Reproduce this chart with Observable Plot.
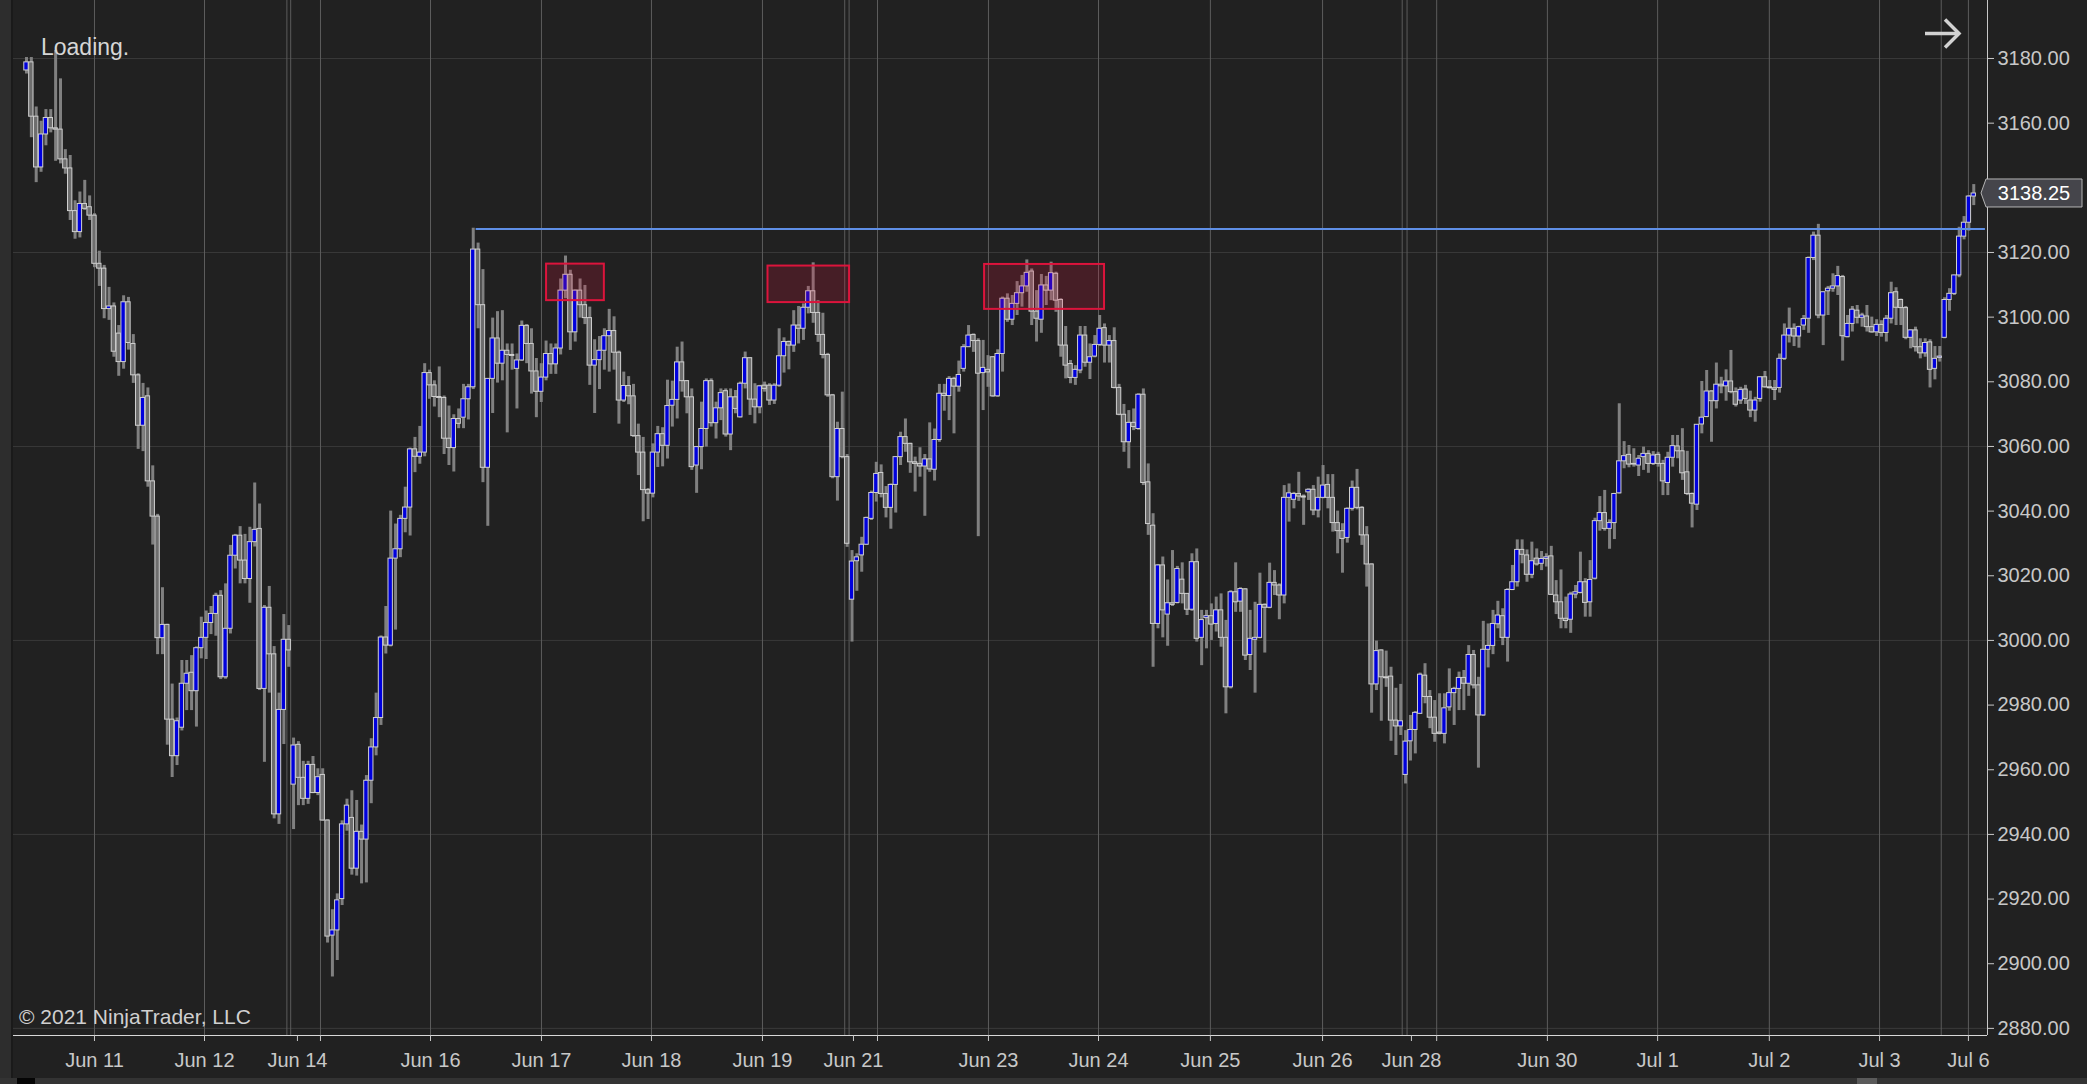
<!DOCTYPE html>
<html>
<head>
<meta charset="utf-8">
<script src="https://cdn.jsdelivr.net/npm/d3@7"></script>
<script src="https://cdn.jsdelivr.net/npm/@observablehq/plot@0.6"></script>
<style>
html,body{margin:0;padding:0;background:#212121;}
#wrap{position:relative;width:2087px;height:1084px;overflow:hidden;background:#212121;font-family:"Liberation Sans",Arial,sans-serif;}
#wrap svg{display:block;}
.ov{position:absolute;left:0;top:0;pointer-events:none;}
#loading{position:absolute;left:41px;top:34px;font-size:23px;color:#d6d6d6;}
#copy{position:absolute;left:19px;top:1005px;font-size:21px;color:#d0d0d0;}
#leftstrip{position:absolute;left:0;top:0;width:11px;height:1078px;background:#2d2d2d;border-right:2px solid #1a1a1a;}
#scroll{position:absolute;left:0;top:1078px;width:2087px;height:6px;background:#333333;}
#scrollA{position:absolute;left:17px;top:1078px;width:18px;height:6px;background:#050505;}
#scrollT{position:absolute;left:1857px;top:1078px;width:20px;height:6px;background:#5a5a5a;}
</style>
</head>
<body>
<div id="wrap">
  <div id="leftstrip"></div>
  <div id="scroll"></div><div id="scrollA"></div><div id="scrollT"></div>
  <div id="loading">Loading.</div>
  <div id="copy">© 2021 NinjaTrader, LLC</div>
</div>
<script>
// ---- bar data (hourly candles, index = bar number) ----
const open = [
3176.3,3178.8,3162.0,3146.3,3156.5,3161.6,3158.4,3158.0,3148.8,3146.0,
3132.8,3126.3,3135.0,3134.0,3131.4,3116.5,3115.0,3102.5,3103.3,3094.9,
3086.1,3104.6,3091.7,3082.0,3066.4,3075.5,3049.2,3038.3,3000.7,3004.8,
2975.5,2964.2,2973.0,2986.6,2990.0,2984.3,2997.6,3000.8,3005.4,3008.2,
3013.8,2988.6,3003.6,3026.2,3032.4,3024.7,3019.0,3030.4,3034.5,2985.0,
3010.1,2995.7,2946.2,2978.5,3000.2,2955.4,2967.7,2957.5,2951.0,2961.5,
2952.8,2958.4,2944.3,2908.7,2910.3,2920.0,2943.1,2945.1,2929.4,2940.8,
2938.4,2956.6,2966.9,2976.0,3000.9,2998.4,3025.3,3028.2,3037.6,3041.1,
3059.1,3056.8,3058.1,3082.7,3078.9,3075.3,3075.0,3062.4,3059.5,3068.5,
3068.9,3074.6,3078.3,3120.9,3103.7,3053.4,3080.9,3093.4,3085.6,3089.6,
3088.3,3084.0,3086.6,3097.3,3091.7,3083.2,3076.9,3081.3,3088.6,3085.4,
3090.3,3108.2,3113.1,3095.3,3108.2,3103.7,3099.7,3085.0,3086.7,3089.6,
3094.1,3095.7,3089.0,3074.2,3078.7,3075.5,3063.2,3058.1,3046.5,3045.4,
3058.1,3063.8,3060.2,3072.6,3074.4,3086.0,3080.2,3075.2,3054.1,3059.8,
3065.4,3080.2,3067.2,3071.8,3077.1,3063.7,3075.2,3069.0,3079.4,3087.3,
3074.5,3072.1,3078.8,3078.8,3074.2,3078.8,3087.9,3092.3,3091.2,3097.4,
3096.4,3102.9,3108.0,3101.3,3094.5,3088.3,3075.8,3050.5,3065.4,3056.7,
3012.6,3024.5,3026.3,3029.6,3037.6,3045.6,3051.8,3045.3,3041.0,3048.1,
3056.7,3062.9,3060.8,3055.1,3054.6,3053.8,3056.0,3052.8,3062.0,3076.3,
3075.6,3080.9,3078.5,3084.0,3090.7,3094.5,3092.6,3082.7,3083.7,3087.6,
3075.5,3088.6,3105.7,3099.2,3104.1,3107.4,3109.5,3114.1,3101.7,3099.2,
3109.8,3108.2,3113.4,3105.3,3091.2,3085.5,3081.2,3083.5,3094.3,3085.9,
3087.8,3091.4,3096.6,3091.2,3092.6,3078.1,3069.8,3061.3,3067.3,3065.4,
3076.0,3048.9,3035.5,3005.1,3023.2,3008.0,3011.5,3011.6,3018.8,3014.4,
3009.5,3024.2,3000.8,3006.9,3007.5,3005.1,3009.3,3000.8,2985.5,3014.9,
3012.0,3015.8,2995.5,3000.2,3000.8,3011.0,3010.1,3017.8,3017.0,3013.9,
3044.1,3043.5,3045.3,3044.5,3045.8,3046.6,3040.2,3044.1,3048.1,3044.1,
3036.3,3033.8,3031.7,3040.7,3047.2,3041.0,3032.5,3023.5,2986.4,2996.9,
2988.6,2988.8,2975.2,2973.4,2958.4,2968.8,2972.3,2977.3,2989.1,2982.5,
2976.1,2971.5,2971.1,2979.3,2983.7,2985.0,2988.4,2986.6,2995.5,2986.1,
2976.8,2997.1,2998.3,3005.0,3007.5,3000.8,3015.6,3018.0,3028.0,3026.3,
3020.3,3025.3,3023.7,3025.2,3026.0,3013.9,3011.8,3006.7,3006.4,3014.2,
3014.7,3018.0,3011.8,3019.1,3036.9,3039.4,3034.5,3036.3,3045.5,3055.4,
3057.4,3054.6,3054.1,3056.7,3057.7,3054.6,3057.4,3054.6,3048.7,3056.5,
3060.0,3058.5,3052.0,3045.3,3042.0,3066.8,3069.1,3077.0,3074.0,3079.1,
3078.6,3080.1,3076.8,3074.2,3077.6,3074.2,3071.1,3074.7,3081.4,3078.3,
3078.0,3078.1,3087.1,3094.3,3096.4,3094.0,3097.4,3099.5,3118.3,3125.2,
3100.5,3108.0,3108.8,3109.5,3112.4,3093.8,3097.9,3102.0,3099.8,3100.2,
3096.9,3095.3,3097.6,3095.1,3099.5,3107.7,3105.3,3102.8,3093.6,3095.9,
3090.7,3088.8,3092.2,3084.0,3087.4,3093.6,3105.3,3107.2,3112.9,3124.9,
3129.2,3137.3];
const high = [
3180.3,3180.3,3165.0,3160.6,3164.2,3164.2,3182.5,3173.7,3151.8,3150.0,
3136.0,3138.7,3142.3,3137.5,3132.0,3120.4,3116.0,3109.2,3104.4,3097.4,
3106.6,3106.1,3094.6,3082.5,3079.5,3078.1,3054.0,3039.0,3016.3,3005.0,
2986.5,2976.0,2993.8,2993.8,2995.3,2998.0,3007.2,3009.1,3010.5,3014.6,
3015.4,3017.5,3029.4,3032.8,3035.2,3032.8,3035.0,3048.7,3042.2,3010.8,
3016.7,2998.1,2983.7,3008.0,3004.6,2969.8,2968.7,2962.6,2962.6,2964.1,
2960.3,2960.3,2944.5,2916.7,2921.6,2944.2,2950.9,2953.5,2950.5,2942.9,
2958.2,2969.6,2983.7,3001.4,3010.5,3040.0,3036.0,3038.7,3047.4,3059.5,
3062.8,3066.2,3085.6,3083.6,3080.3,3084.6,3075.6,3072.5,3069.8,3071.6,
3079.2,3079.2,3127.5,3122.9,3114.7,3081.0,3099.7,3101.7,3102.0,3091.7,
3091.7,3088.6,3098.8,3097.7,3096.4,3087.2,3085.6,3092.6,3091.7,3091.7,
3111.8,3118.9,3114.5,3108.4,3111.8,3109.8,3103.1,3093.0,3094.0,3096.4,
3102.4,3100.1,3089.5,3083.0,3081.6,3079.2,3066.9,3062.8,3047.0,3060.8,
3066.2,3065.8,3080.5,3080.2,3090.7,3092.3,3080.4,3077.8,3060.0,3073.7,
3080.9,3080.9,3073.7,3077.8,3077.8,3077.8,3077.3,3079.9,3089.2,3087.4,
3079.4,3078.9,3079.9,3079.4,3079.4,3096.4,3093.6,3092.6,3102.0,3103.3,
3104.1,3109.5,3116.8,3105.1,3101.2,3088.8,3076.1,3067.5,3076.8,3057.5,
3027.8,3026.8,3031.9,3038.1,3046.2,3055.1,3054.3,3047.6,3048.4,3056.9,
3064.4,3068.5,3061.0,3056.7,3059.6,3057.5,3067.3,3065.4,3079.2,3079.2,
3081.6,3081.4,3086.4,3091.5,3097.4,3094.8,3093.3,3092.8,3088.1,3087.8,
3089.9,3106.2,3107.2,3106.7,3111.0,3112.9,3117.7,3114.9,3108.2,3113.2,
3112.6,3117.0,3113.9,3105.7,3097.1,3086.6,3085.0,3097.1,3097.1,3091.7,
3094.3,3100.5,3097.9,3094.3,3096.7,3079.2,3073.0,3071.1,3071.6,3076.3,
3077.8,3054.6,3039.2,3023.5,3025.8,3018.7,3027.8,3022.9,3024.0,3014.5,
3026.8,3028.3,3009.3,3009.3,3011.3,3013.4,3014.4,3006.2,3015.4,3024.0,
3016.3,3016.0,3009.3,3011.8,3020.8,3011.3,3023.9,3021.6,3017.5,3047.9,
3048.4,3045.8,3052.0,3045.0,3046.9,3047.9,3050.5,3054.1,3051.3,3051.3,
3040.0,3036.1,3041.0,3049.3,3052.9,3041.4,3035.2,3023.7,2999.8,2997.1,
2996.7,2991.7,2985.2,2986.4,2972.1,2976.8,2978.0,2989.9,2992.8,2984.5,
2981.4,2983.5,2983.5,2991.2,2985.5,2990.2,2990.7,2998.4,2996.9,2988.6,
3005.9,3005.1,3009.3,3012.1,3009.8,3016.0,3023.2,3031.1,3031.1,3028.0,
3030.4,3028.3,3027.5,3026.8,3029.1,3018.5,3021.8,3013.4,3014.9,3017.0,
3027.3,3019.1,3024.7,3037.8,3044.5,3046.4,3037.3,3045.5,3073.2,3061.5,
3060.3,3059.3,3057.2,3059.8,3058.7,3058.4,3058.2,3055.7,3058.2,3063.4,
3063.4,3065.5,3058.5,3045.6,3066.8,3080.1,3083.5,3077.3,3085.8,3081.4,
3083.7,3089.7,3078.1,3078.3,3078.9,3077.1,3075.2,3081.6,3083.2,3080.4,
3080.4,3088.6,3097.9,3102.8,3097.9,3097.2,3100.5,3118.6,3126.3,3128.7,
3107.8,3109.5,3113.4,3115.7,3112.9,3100.5,3103.3,3103.6,3101.2,3103.6,
3100.0,3099.2,3098.9,3100.5,3110.8,3109.1,3105.6,3103.3,3096.1,3096.9,
3093.3,3093.3,3093.0,3090.9,3090.9,3106.0,3108.8,3113.0,3127.8,3131.1,
3137.6,3141.0];
const low = [
3175.2,3155.5,3141.6,3144.8,3153.0,3157.0,3148.2,3147.4,3144.2,3129.9,
3124.1,3124.5,3133.0,3129.9,3115.3,3109.5,3099.5,3099.0,3087.6,3081.7,
3083.9,3089.8,3079.5,3059.1,3058.4,3047.4,3029.5,2995.6,2995.6,2967.6,
2957.6,2961.3,2972.0,2978.3,2978.3,2973.2,2994.3,2994.1,3001.8,3001.3,
2987.9,2988.0,3002.0,3022.1,3017.5,3017.5,3011.5,3028.9,2984.5,2962.3,
2983.7,2944.8,2943.1,2967.8,2991.7,2941.5,2948.9,2948.9,2949.3,2952.6,
2952.0,2944.1,2906.4,2895.9,2901.0,2918.0,2941.0,2927.4,2927.1,2924.7,
2925.0,2949.5,2964.3,2973.7,2995.8,2998.0,3003.2,3025.6,3033.3,3032.3,
3051.9,3054.5,3056.8,3074.6,3072.2,3068.9,3057.5,3054.1,3052.1,3065.5,
3065.5,3068.2,3077.6,3096.4,3048.8,3035.3,3070.2,3079.6,3080.3,3064.2,
3083.6,3071.6,3086.3,3085.6,3076.2,3068.9,3073.6,3080.3,3082.3,3082.3,
3088.3,3105.7,3089.7,3092.3,3099.7,3097.7,3078.9,3070.2,3077.6,3083.6,
3083.0,3083.6,3066.9,3073.6,3072.9,3062.8,3051.0,3036.7,3037.4,3044.1,
3053.5,3053.7,3056.1,3066.0,3068.5,3076.8,3070.1,3052.6,3045.5,3052.8,
3059.8,3066.0,3062.3,3068.0,3062.9,3058.7,3070.1,3068.8,3077.8,3069.6,
3067.0,3070.1,3076.8,3072.7,3073.0,3078.3,3082.7,3083.7,3089.1,3091.7,
3092.8,3101.0,3098.1,3092.2,3087.1,3075.2,3050.0,3043.1,3056.2,3028.8,
2999.5,3015.2,3021.1,3029.4,3037.1,3042.8,3044.1,3037.9,3034.4,3039.4,
3054.1,3058.2,3051.7,3045.9,3050.5,3038.4,3052.0,3049.3,3061.3,3070.9,
3068.0,3063.9,3076.8,3083.0,3090.7,3089.1,3032.1,3071.1,3078.3,3075.2,
3075.2,3083.0,3098.4,3097.4,3100.5,3103.1,3107.7,3097.4,3092.3,3095.0,
3103.6,3105.1,3101.5,3087.6,3080.9,3079.4,3078.9,3082.5,3084.5,3080.7,
3087.4,3090.9,3085.8,3085.8,3077.8,3069.5,3058.2,3053.1,3064.9,3065.0,
3047.9,3032.5,2991.7,3003.6,3000.8,2998.2,3010.5,3011.3,3011.3,3007.7,
3009.0,2999.5,2992.2,2997.4,3000.0,3002.6,2997.9,2977.3,2985.0,3008.7,
3008.7,2993.8,2990.7,2983.7,3000.5,2996.1,3009.8,3013.9,3006.4,3011.3,
3036.6,3040.7,3043.0,3035.6,3043.3,3038.6,3037.9,3043.8,3040.7,3033.5,
3026.8,3020.8,3030.1,3040.0,3040.4,3029.4,3016.5,2977.5,2984.5,2975.0,
2985.5,2968.8,2964.4,2970.6,2955.6,2962.7,2964.9,2977.1,2980.4,2972.7,
2968.5,2970.8,2968.0,2978.1,2973.7,2978.3,2978.3,2982.7,2985.0,2960.5,
2976.5,2991.5,2995.6,3003.6,2998.4,2993.3,3015.4,3016.5,3023.7,3018.0,
3019.1,3023.0,3021.6,3022.7,3013.9,3008.0,3003.6,3003.6,3002.2,3012.9,
3014.4,3007.2,3007.2,3018.7,3033.8,3033.8,3028.2,3031.2,3045.3,3053.1,
3053.4,3053.6,3050.7,3052.6,3051.7,3054.1,3053.6,3044.8,3044.8,3053.6,
3056.2,3049.5,3044.8,3034.8,3040.2,3063.9,3068.9,3061.3,3071.6,3076.3,
3074.0,3076.3,3072.2,3073.0,3073.0,3068.9,3067.5,3073.7,3078.0,3077.8,
3074.2,3076.5,3086.6,3092.0,3090.9,3090.4,3095.9,3095.0,3117.5,3099.5,
3091.2,3100.5,3107.7,3106.7,3086.4,3093.6,3095.4,3097.9,3096.9,3095.4,
3095.0,3094.0,3093.8,3092.3,3097.9,3097.4,3097.4,3093.0,3090.2,3089.2,
3087.1,3087.6,3078.1,3080.6,3086.1,3093.3,3101.8,3106.7,3112.2,3123.9,
3126.6,3134.5];
const close = [
3178.8,3162.0,3146.3,3156.5,3161.6,3158.4,3158.0,3148.8,3146.0,3132.8,
3126.3,3135.0,3133.5,3131.4,3116.5,3115.0,3102.5,3103.3,3089.3,3086.1,
3104.6,3092.0,3082.0,3066.4,3075.0,3049.2,3038.3,3000.7,3004.8,2975.5,
2964.2,2975.0,2986.6,2989.7,2984.3,2997.6,3000.8,3005.4,3008.2,3013.8,
2988.6,3003.6,3026.2,3032.4,3024.7,3019.0,3030.4,3034.2,2985.0,3010.1,
2995.7,2946.2,2978.5,3000.2,2996.9,2967.5,2957.5,2951.0,2961.5,2952.8,
2957.7,2944.3,2908.4,2910.3,2919.6,2943.1,2948.9,2929.4,2940.8,2938.4,
2956.6,2966.9,2976.0,3000.9,2998.4,3025.3,3028.2,3037.6,3041.1,3059.1,
3056.8,3058.1,3082.7,3078.9,3075.3,3075.0,3062.4,3059.5,3068.5,3067.0,
3074.6,3078.3,3120.9,3103.7,3053.4,3080.9,3093.4,3085.6,3089.6,3088.3,
3088.0,3086.6,3097.3,3091.7,3083.2,3076.9,3081.3,3088.6,3085.4,3090.3,
3108.2,3113.1,3095.3,3108.2,3103.7,3099.7,3085.0,3086.7,3089.6,3094.1,
3095.7,3089.0,3074.2,3078.7,3075.5,3063.2,3058.1,3046.5,3045.4,3058.1,
3063.8,3060.2,3072.5,3074.4,3086.0,3080.2,3075.2,3053.6,3059.8,3065.4,
3080.2,3067.2,3071.8,3076.5,3063.7,3075.2,3071.6,3079.4,3087.3,3074.5,
3072.1,3078.6,3077.8,3074.2,3078.8,3087.9,3092.3,3091.2,3097.4,3096.4,
3102.9,3108.0,3101.3,3094.5,3088.3,3075.8,3050.5,3065.4,3056.7,3029.9,
3024.4,3025.7,3029.6,3037.9,3045.6,3051.5,3045.3,3041.0,3048.1,3056.7,
3062.9,3060.8,3055.1,3054.6,3053.8,3056.0,3052.9,3062.0,3076.3,3075.6,
3080.9,3078.5,3082.1,3090.7,3094.3,3092.6,3082.5,3084.3,3082.9,3075.5,
3088.6,3105.7,3099.2,3104.1,3107.4,3109.5,3113.7,3101.7,3099.5,3109.8,
3108.2,3113.6,3105.1,3091.2,3085.0,3081.2,3083.7,3094.3,3085.9,3087.6,
3091.4,3096.4,3091.2,3092.6,3078.1,3069.8,3061.3,3067.3,3066.0,3076.0,
3048.7,3036.0,3005.1,3023.2,3009.3,3011.5,3011.0,3022.1,3014.4,3009.5,
3024.2,3000.5,3006.3,3007.5,3004.9,3009.3,3000.8,2985.5,3014.9,3011.8,
3015.9,2995.3,3000.5,3000.8,3011.0,3010.1,3017.8,3017.0,3013.9,3044.1,
3045.5,3045.3,3044.5,3044.2,3046.6,3040.2,3044.1,3047.9,3044.1,3036.3,
3033.8,3031.4,3040.7,3047.2,3041.0,3032.5,3023.5,2986.4,2996.7,2988.6,
2988.3,2975.2,2973.4,2975.0,2968.7,2972.3,2977.6,2989.4,2982.5,2976.1,
2971.1,2971.1,2979.0,2983.7,2985.0,2988.4,2986.6,2995.5,2986.1,2976.8,
2997.1,2998.3,3005.1,3007.7,3000.8,3015.6,3018.0,3028.0,3026.5,3020.3,
3024.5,3023.5,3025.2,3025.7,3014.1,3011.8,3006.7,3006.0,3014.2,3014.9,
3018.0,3011.6,3018.7,3036.9,3039.4,3034.5,3036.3,3045.3,3055.4,3057.0,
3054.4,3054.4,3056.2,3057.7,3054.6,3057.2,3054.6,3049.2,3056.5,3060.1,
3058.5,3051.7,3045.3,3042.3,3066.7,3068.9,3077.0,3074.0,3079.1,3078.6,
3080.1,3076.8,3072.9,3077.5,3074.7,3071.1,3074.2,3081.4,3078.3,3078.0,
3077.5,3087.1,3094.3,3096.4,3094.0,3096.9,3099.4,3118.3,3125.2,3100.5,
3107.7,3108.8,3109.5,3112.7,3094.1,3097.9,3102.3,3099.8,3100.5,3096.9,
3095.3,3097.6,3095.1,3099.5,3107.4,3102.9,3102.8,3093.6,3095.9,3090.7,
3088.8,3092.0,3083.7,3087.1,3087.8,3105.3,3107.2,3112.9,3124.9,3129.2,
3137.3,3138.25];

// ---- axis ticks / labels (positions in bar-index units) ----
const yTicks = [2880,2900,2920,2940,2960,2980,3000,3020,3040,3060,3080,3100,3120,3140,3160,3180];
const yHiddenLabel = 3140; // covered by the last-price tag in the original
const yGrid = [2880,2940,3000,3060,3120,3180];
const dayLines = [14.0,36.66,60.54,83.2,106.05,128.7,151.56,175.25,198.1,220.76,243.8,266.9,290.4,313.2,335.9,358.9,381.6,399.9];
const sessionLines = [53.62,54.41,168.5,169.4,283.3,284.3,394.3];
const xTickPos = [14.0,36.66,55.8,60.54,83.2,106.05,128.7,151.56,170.3,175.25,198.1,220.76,243.8,266.9,285.2,290.4,313.2,335.9,358.9,381.6,399.9];
const xTickLabels = ["Jun 11","Jun 12","Jun 14","","Jun 16","Jun 17","Jun 18","Jun 19","Jun 21","","Jun 23","Jun 24","Jun 25","Jun 26","Jun 28","","Jun 30","Jul 1","Jul 2","Jul 3","Jul 6"];

// ---- annotations ----
const boxStart = [107.1,152.7,197.3];
const boxEnd   = [119.0,169.5,222.0];
const boxLow   = [3105.1,3104.5,3102.4];
const boxHigh  = [3116.4,3115.8,3116.3];
const levelPrice = 3127.25;
const levelFrom = 92.6, levelTo = 403.4;
const lastPrice = 3138.25;

const bars = close.map((c, i) => ({i, o: open[i], h: high[i], l: low[i], c}));
const boxes = boxStart.map((s, k) => ({x1: s, x2: boxEnd[k], y1: boxLow[k], y2: boxHigh[k]}));
const labelMap = new Map(xTickPos.map((p, k) => [p, xTickLabels[k]]));
const xDomain = [-2.88, 403.83];
const yDomain = [2877.8, 3197.94];

const chart = Plot.plot({
  width: 2087, height: 1084,
  marginLeft: 12, marginRight: 100, marginTop: 0, marginBottom: 49,
  style: {background: "transparent", color: "#c8c8c8", fontFamily: "'Liberation Sans', Arial, sans-serif", fontSize: "20px"},
  x: {domain: xDomain, label: null},
  y: {domain: yDomain, label: null},
  color: {type: "identity"},
  marks: [
    Plot.ruleY(yGrid, {stroke: "#393939", strokeWidth: 1}),
    Plot.ruleX(dayLines, {stroke: "#5c5c5c", strokeWidth: 1}),
    Plot.ruleX(sessionLines, {stroke: "#5c5c5c", strokeWidth: 1}),
    Plot.ruleX(bars, {x: "i", y1: "l", y2: "h", stroke: "#808080", strokeWidth: 3}),
    Plot.rect(bars, {
      x1: d => d.i - 0.45, x2: d => d.i + 0.45, y1: "o", y2: "c",
      fill: d => d.c >= d.o ? "#0000dc" : "#6e6e6e",
      stroke: "#cfcfcf", strokeWidth: 1
    }),
    Plot.ruleY([{y: levelPrice, x1: levelFrom, x2: levelTo}], {y: "y", x1: "x1", x2: "x2", stroke: "#5f8fe6", strokeWidth: 2}),
    Plot.rect(boxes, {x1: "x1", x2: "x2", y1: "y1", y2: "y2", fill: "#dc143c", fillOpacity: 0.2, stroke: "#dc143c", strokeWidth: 2}),
    Plot.ruleX([xDomain[1]], {stroke: "#c8c8c8", strokeWidth: 1}),
    Plot.ruleY([yDomain[0]], {stroke: "#d8d8d8", strokeWidth: 1}),
    Plot.axisY({anchor: "right", ticks: yTicks, tickFormat: d => d === yHiddenLabel ? "" : d.toFixed(2), tickSize: 6, tickPadding: 4, fontSize: 20, fill: "#c8c8c8", stroke: "#c8c8c8", label: null}),
    Plot.axisX({anchor: "bottom", ticks: xTickPos, tickFormat: d => labelMap.get(d) ?? "", tickSize: 6, tickPadding: 11, fontSize: 20, fill: "#c8c8c8", stroke: "#c8c8c8", label: null})
  ]
});
const wrap = document.getElementById("wrap");
chart.style.position = "absolute"; chart.style.left = "0"; chart.style.top = "0";
wrap.insertBefore(chart, wrap.firstChild);

// overlay: last-price tag and arrow icon
const yc = chart.scale("y").apply(lastPrice);
const ns = "http://www.w3.org/2000/svg";
const ov = document.createElementNS(ns, "svg");
ov.setAttribute("class", "ov"); ov.setAttribute("width", 2087); ov.setAttribute("height", 1084);
ov.innerHTML =
  `<polygon points="1981,${yc} 1986,${yc-14} 2082,${yc-14} 2082,${yc+14} 1986,${yc+14}" fill="#45454b" stroke="#b4b4b4" stroke-width="1"/>` +
  `<text x="2034" y="${yc}" dy="0.35em" text-anchor="middle" fill="#ffffff" font-size="20" font-family="'Liberation Sans', Arial, sans-serif">${lastPrice.toFixed(2)}</text>` +
  `<g stroke="#d2d2d2" stroke-width="3.5" fill="none" stroke-linecap="butt"><line x1="1925" y1="33.5" x2="1959" y2="33.5"/><polyline points="1945,19.5 1959,33.5 1945,47.5"/></g>`;
wrap.appendChild(ov);
</script>
</body>
</html>
